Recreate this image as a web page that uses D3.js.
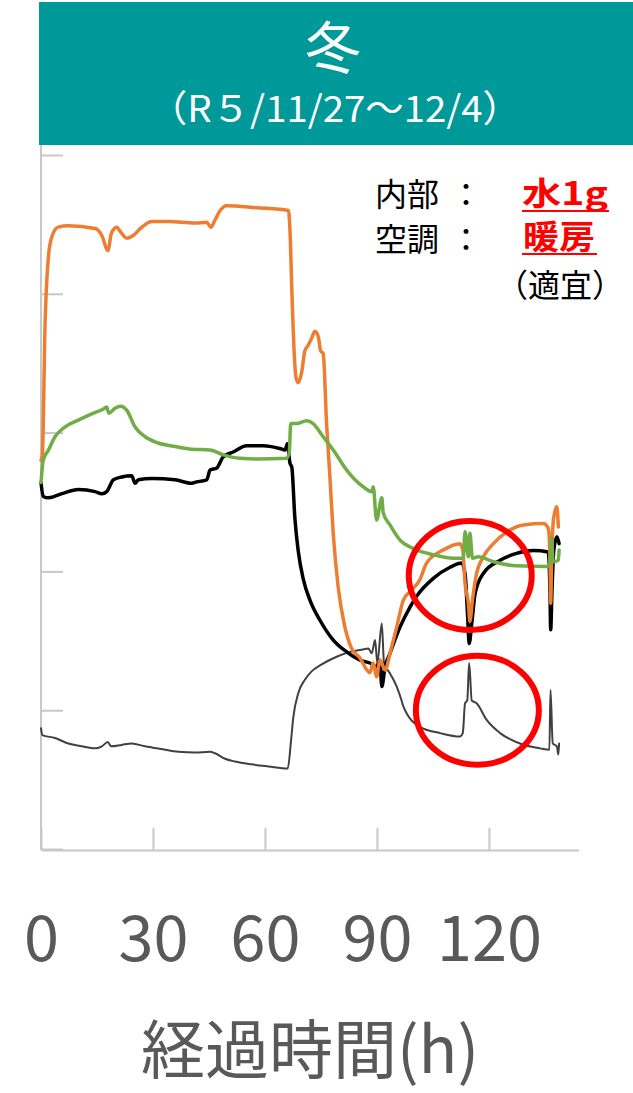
<!DOCTYPE html>
<html>
<head>
<meta charset="utf-8">
<script src="https://cdn.jsdelivr.net/npm/d3@7"></script>
<style>
  body { margin: 0; background: #fff; }
  text { font-family: "Noto Sans CJK JP", "Noto Sans", sans-serif; }
</style>
</head>
<body>
<svg id="chart"></svg>
<script>

// hours, value
let grayData = [
  [0, -1.3], [0.35, -1.8], [3.75, -2.0], [7.3, -2.4], [10.9, -2.6], [14.5, -2.75], [16.3, -2.6],
  [17.9, -2.3], [18.8, -2.6], [21.6, -2.5], [24.3, -2.4], [27.9, -2.6], [32.3, -2.8], [36.8, -3.0],
  [41.3, -3.05], [45.3, -3.0], [46.6, -3.1], [49.3, -3.5], [52.0, -3.7], [56.4, -3.9], [60.9, -4.05],
  [66.1, -4.2], [67.0, -2.15], [67.6, -0.5], [68.9, 1.2], [70.7, 2.2], [72.5, 2.8], [75.2, 3.3],
  [79.2, 3.85], [82.8, 4.2], [85.9, 4.35], [87.7, 4.45], [88.6, 4.1], [89.5, 5.05], [90.1, 3.4],
  [91.3, 6.25], [91.9, 3.4], [93.5, 2.65], [95.3, 1.7], [96.6, 0.7], [97.1, 0.25], [101.5, -1.2],
  [106.9, -1.65], [112.2, -1.9], [113.0, -1.65], [113.6, 0.5], [114.2, 0.7], [114.7, 3.4],
  [115.4, 0.7], [116.7, 0.5], [119.4, -0.7], [123.0, -1.65], [128.3, -2.4], [133.7, -2.75],
  [136.2, -2.85], [136.5, 1.45], [137.1, -2.4], [138.2, -2.6], [138.6, -3.2], [138.8, -2.4]
];

let blackData = [
  [0, 16.4], [0.6, 15.4], [2.0, 15.3], [5.6, 15.6], [10.0, 15.9], [14.5, 15.75], [16.3, 15.6],
  [17.6, 15.75], [19.4, 16.6], [21.6, 16.8], [24.3, 16.9], [25.2, 16.35], [26.1, 16.6], [29.7, 16.7],
  [35.9, 16.6], [40.4, 16.35], [41.7, 16.45], [44.4, 16.6], [45.3, 17.3], [47.1, 17.45], [48.8, 18.25],
  [51.5, 18.6], [55.1, 19.05], [59.6, 19.05], [64.0, 18.85], [65.4, 18.75], [66.0, 19.2], [66.7, 17.8],
  [67.2, 17.5], [68.0, 13.9], [68.9, 11.5], [70.3, 9.4], [72.1, 7.9], [74.7, 6.5], [78.3, 5.05],
  [81.9, 4.2], [85.5, 3.6], [88.1, 3.4], [89.9, 3.15], [90.8, 3.6], [91.3, 1.7], [92.2, 3.15],
  [93.5, 4.1], [96.2, 6.0], [98.9, 7.45], [100.6, 8.2], [105.1, 9.5], [109.6, 10.3], [112.7, 10.6],
  [113.6, 9.85], [114.3, 6.75], [114.7, 4.8], [115.4, 6.25], [116.3, 8.4], [118.5, 9.85],
  [123.0, 10.8], [127.4, 11.3], [131.9, 11.5], [135.9, 11.4], [136.35, 8.65], [136.55, 5.8],
  [136.9, 8.65], [137.4, 11.55], [138.2, 12.5], [138.8, 12.0]
];

let orangeData = [
  [0, 18.0], [0.35, 18.3], [1.1, 27.9], [2.0, 32.7], [2.9, 34.1], [4.6, 34.8], [7.3, 34.9],
  [14.5, 34.7], [16.3, 34.2], [17.9, 33.1], [18.9, 34.4], [20.3, 34.8], [21.2, 34.5], [23.0, 34.0],
  [24.7, 34.2], [27.0, 34.8], [29.7, 35.2], [34.1, 35.2], [41.3, 35.1], [44.4, 35.15], [45.5, 34.8],
  [46.6, 35.3], [48.0, 36.0], [49.7, 36.35], [57.8, 36.2], [66.3, 36.0], [66.7, 34.6], [67.2, 30.3],
  [67.8, 25.9], [68.3, 24.0], [68.9, 23.6], [69.8, 24.3], [70.7, 25.9], [71.6, 26.3], [72.5, 26.8],
  [73.4, 27.3], [74.3, 26.9], [74.9, 25.9], [75.6, 25.7], [76.5, 20.7], [77.4, 16.8], [78.3, 12.7],
  [79.6, 8.9], [81.4, 6.0], [83.2, 4.45], [85.5, 3.75], [87.3, 2.9], [88.1, 2.7], [89.0, 3.4],
  [89.9, 2.4], [90.8, 3.6], [92.2, 2.9], [93.5, 4.1], [95.3, 6.0], [97.1, 7.95], [98.9, 8.55],
  [101.5, 9.4], [103.3, 10.6], [107.8, 11.55], [112.2, 12.0], [113.0, 11.55], [113.6, 9.15],
  [114.5, 7.7], [114.9, 6.4], [115.6, 7.95], [116.5, 9.6], [118.5, 11.05], [121.2, 12.0],
  [124.8, 12.85], [129.2, 13.35], [134.6, 13.45], [135.9, 13.1], [136.35, 11.05], [136.55, 7.7],
  [136.8, 11.05], [137.4, 13.95], [138.2, 14.65], [138.6, 13.2]
];

let greenData = [
  [0, 16.4], [0.6, 18.0], [2.0, 18.75], [3.75, 19.7], [6.4, 20.4], [10.0, 20.9], [13.6, 21.35],
  [16.7, 21.7], [17.6, 21.85], [18.2, 21.4], [19.8, 21.75], [21.4, 21.9], [23.0, 21.6], [25.2, 20.4],
  [27.9, 19.7], [31.4, 19.25], [35.9, 19.0], [40.4, 18.8], [45.3, 18.75], [48.8, 18.4], [53.3, 18.15],
  [57.8, 18.1], [65.8, 18.15], [66.5, 18.5], [66.9, 20.65], [68.5, 20.65], [71.2, 20.85], [72.9, 20.65],
  [75.6, 19.7], [78.3, 18.75], [81.9, 17.3], [86.3, 16.1], [88.6, 15.75], [89.0, 16.1], [89.9, 13.7],
  [91.3, 15.3], [91.7, 14.2], [93.5, 13.35], [96.2, 12.25], [99.7, 11.65], [105.1, 11.2],
  [110.5, 10.95], [113.1, 10.95], [113.6, 12.85], [114.5, 11.05], [114.9, 12.75], [115.6, 10.95],
  [117.1, 11.05], [121.2, 10.7], [127.4, 10.4], [135.5, 10.35], [136.35, 10.7], [136.8, 12.4],
  [137.2, 10.7], [138.6, 10.8], [138.8, 11.55]
];

let xTicks = [0, 30, 60, 90, 120];
let yTicks = [-10, 0, 10, 20, 30, 40];

// red ellipse annotations (hours, value)
let marks = [[115.0, 9.7], [116.9, 0.0]];

let width = 633;
let height = 1093;

let svg = d3.select("#chart")
            .attr("width", width)
            .attr("height", height);

let x = d3.scaleLinear().domain([0, 144]).range([41, 578.5]);
let y = d3.scaleLinear().domain([-10, 40]).range([849, 155]);

// header
svg.append("rect")
    .attr("x", 39).attr("y", 2)
    .attr("width", width - 39).attr("height", 143)
    .attr("fill", "#009999");

svg.append("text")
    .attr("x", 333).attr("y", 68)
    .attr("text-anchor", "middle")
    .attr("font-size", 56)
    .attr("fill", "white")
    .text("冬");

svg.append("text")
    .attr("x", 335).attr("y", 122)
    .attr("text-anchor", "middle")
    .attr("font-size", 37)
    .attr("textLength", 372)
    .attr("lengthAdjust", "spacingAndGlyphs")
    .attr("fill", "white")
    .text("（R５/11/27～12/4）");

// axes
svg.append("line")
    .attr("x1", 41).attr("x2", 41)
    .attr("y1", 145).attr("y2", 850)
    .attr("stroke", "#c8c8c8").attr("stroke-width", 2);

let yAxis = svg.append("g")
    .attr("transform", "translate(41,0)")
    .call(d3.axisLeft(y).tickValues(yTicks).tickSizeInner(-22).tickSizeOuter(0).tickFormat(""));
yAxis.select(".domain").remove();
yAxis.selectAll("line").attr("stroke", "#c8c8c8").attr("stroke-width", 2);

let xAxis = svg.append("g")
    .attr("transform", "translate(0,850)")
    .call(d3.axisBottom(x).tickValues(xTicks).tickSizeInner(-22).tickSizeOuter(0).tickPadding(66));
xAxis.select(".domain").attr("stroke", "#c8c8c8").attr("stroke-width", 2);
xAxis.selectAll("line").attr("stroke", "#c8c8c8").attr("stroke-width", 2);
xAxis.selectAll("text")
    .attr("font-size", 63)
    .attr("fill", "#595959")
    .style("font-family", "'Noto Sans CJK JP', sans-serif");

svg.append("text")
    .attr("x", 310).attr("y", 1073)
    .attr("text-anchor", "middle")
    .attr("font-size", 64)
    .attr("fill", "#595959")
    .text("経過時間(h)");

// lines
let line = d3.line()
    .x(d => x(d[0]))
    .y(d => y(d[1]))
    .curve(d3.curveMonotoneX);

let series = [
  { data: grayData, color: "#404040", w: 2 },
  { data: blackData, color: "#000000", w: 3.5 },
  { data: orangeData, color: "#ED7D31", w: 3.5 },
  { data: greenData, color: "#70AD47", w: 3.5 }
];

svg.selectAll("path.series")
    .data(series)
    .enter()
    .append("path")
    .attr("class", "series")
    .attr("d", d => line(d.data))
    .attr("fill", "none")
    .attr("stroke", d => d.color)
    .attr("stroke-width", d => d.w)
    .attr("stroke-linejoin", "round")
    .attr("stroke-linecap", "round");

// annotations
svg.selectAll("ellipse.mark")
    .data(marks)
    .enter()
    .append("ellipse")
    .attr("class", "mark")
    .attr("cx", d => x(d[0]))
    .attr("cy", d => y(d[1]))
    .attr("rx", 61.5)
    .attr("ry", 54.5)
    .attr("fill", "none")
    .attr("stroke", "#ff0000")
    .attr("stroke-width", 6);

// condition text
svg.append("text").attr("x", 375).attr("y", 206).attr("font-size", 32).attr("fill", "#000").text("内部");
svg.append("text").attr("x", 466).attr("y", 206).attr("text-anchor", "middle").attr("font-size", 32).attr("fill", "#000").text("：");
svg.append("text").attr("x", 375).attr("y", 251).attr("font-size", 32).attr("fill", "#000").text("空調");
svg.append("text").attr("x", 466).attr("y", 251).attr("text-anchor", "middle").attr("font-size", 32).attr("fill", "#000").text("：");

svg.append("text").attr("x", 522).attr("y", 205)
    .attr("font-size", 32).attr("font-weight", "bold").attr("fill", "#ff0000")
    .attr("textLength", 86).attr("lengthAdjust", "spacingAndGlyphs")
    .text("水1g");
svg.append("line").attr("x1", 522).attr("x2", 609).attr("y1", 211).attr("y2", 211)
    .attr("stroke", "#ff0000").attr("stroke-width", 2);

svg.append("text").attr("x", 523).attr("y", 249)
    .attr("font-size", 33).attr("font-weight", "bold").attr("fill", "#ff0000")
    .attr("textLength", 72).attr("lengthAdjust", "spacingAndGlyphs")
    .text("暖房");
svg.append("line").attr("x1", 522).attr("x2", 597).attr("y1", 254).attr("y2", 254)
    .attr("stroke", "#ff0000").attr("stroke-width", 2);

svg.append("text").attr("x", 560).attr("y", 297)
    .attr("text-anchor", "middle")
    .attr("font-size", 32).attr("fill", "#000")
    .text("（適宜）");

</script>
</body>
</html>
